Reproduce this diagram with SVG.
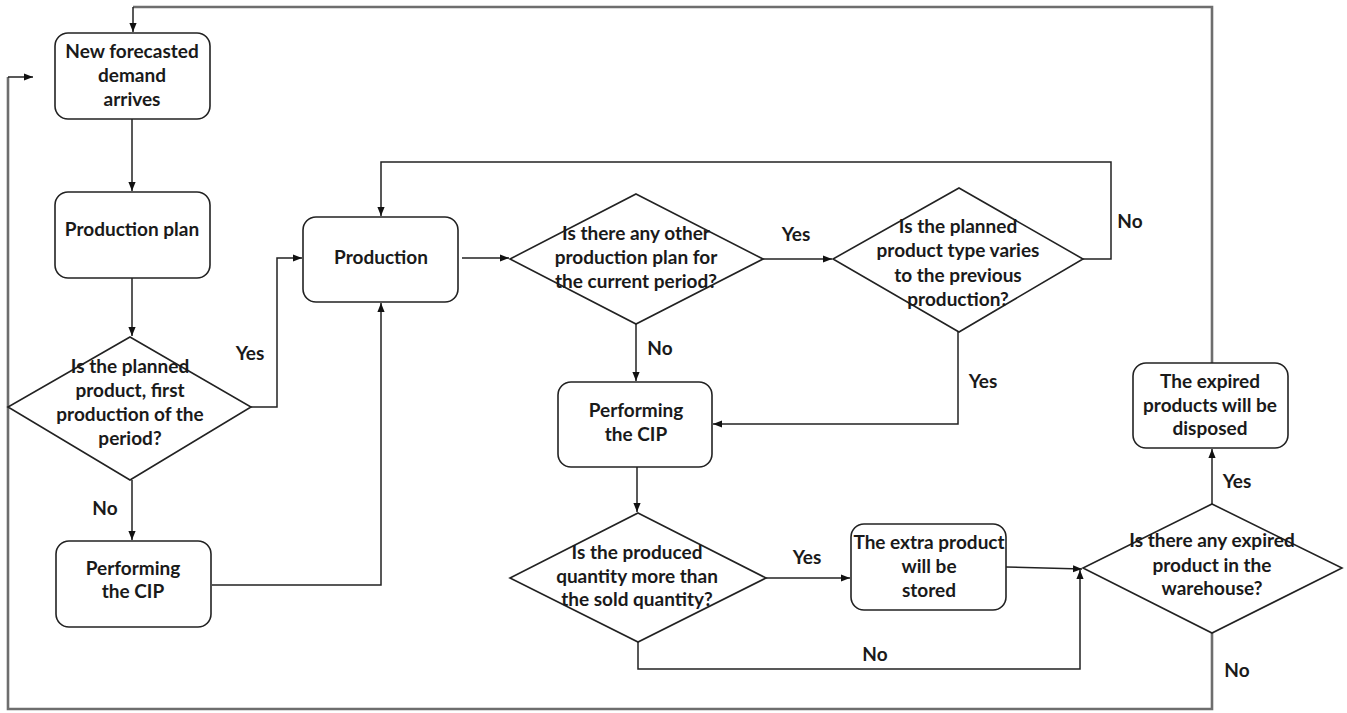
<svg xmlns="http://www.w3.org/2000/svg" width="1347" height="713" viewBox="0 0 1347 713">
<defs>
<marker id="ah" viewBox="0 0 10 10" refX="10" refY="5" markerWidth="9" markerHeight="9" markerUnits="userSpaceOnUse" orient="auto">
<path d="M0,1 L10,5 L0,9 z" fill="#111"/>
</marker>
<style>
.box{fill:#fff;stroke:#222;stroke-width:1.6}
.t{font-family:Lato,"Open Sans","Liberation Sans",sans-serif;font-weight:bold;font-size:19px;fill:#1a1a1a;text-anchor:middle}
.c{fill:none;stroke:#222;stroke-width:1.5}
.g{fill:none;stroke:#6e6e6e;stroke-width:2.6}
</style>
</defs>
<rect width="1347" height="713" fill="#fff"/>

<g id="connectors">
<path class="g" d="M1212,363 V7 H133"/>
<path class="c" d="M133,7 V32" marker-end="url(#ah)"/>
<path class="g" d="M1212,633 V709 H8 V77"/>
<path class="c" d="M8,77 H33" marker-end="url(#ah)"/>
<path class="c" d="M132,119 V191" marker-end="url(#ah)"/>
<path class="c" d="M132,278 V336" marker-end="url(#ah)"/>
<path class="c" d="M250,407 H277 V258 H302" marker-end="url(#ah)"/>
<path class="c" d="M132,480 V540" marker-end="url(#ah)"/>
<path class="c" d="M212,585 H381 V303" marker-end="url(#ah)"/>
<path class="c" d="M462,258 H509" marker-end="url(#ah)"/>
<path class="c" d="M763,259 H832" marker-end="url(#ah)"/>
<path class="c" d="M1083,259 H1111 V162 H381 V216" marker-end="url(#ah)"/>
<path class="c" d="M636,324 V381" marker-end="url(#ah)"/>
<path class="c" d="M958,332 V424 H713" marker-end="url(#ah)"/>
<path class="c" d="M637,467 V512" marker-end="url(#ah)"/>
<path class="c" d="M766,578 H850" marker-end="url(#ah)"/>
<path class="c" d="M1006,567 L1082,569" marker-end="url(#ah)"/>
<path class="c" d="M638,642 V669 H1080 V570" marker-end="url(#ah)"/>
<path class="c" d="M1212,504 V449" marker-end="url(#ah)"/>
</g>

<g id="labels">
<text class="t" x="250" y="360">Yes</text>
<text class="t" x="105" y="515">No</text>
<text class="t" x="796" y="241">Yes</text>
<text class="t" x="1130" y="228">No</text>
<text class="t" x="660" y="355">No</text>
<text class="t" x="983" y="388">Yes</text>
<text class="t" x="807" y="564">Yes</text>
<text class="t" x="875" y="661">No</text>
<text class="t" x="1237" y="488">Yes</text>
<text class="t" x="1237" y="677">No</text>
</g>

<g id="n-demand">
<rect class="box" x="55" y="33" width="155" height="86" rx="13"/>
<text class="t" x="132" y="58">New forecasted</text>
<text class="t" x="132" y="82">demand</text>
<text class="t" x="132" y="106">arrives</text>
</g>

<g id="n-plan">
<rect class="box" x="55" y="192" width="155" height="86" rx="13"/>
<text class="t" x="132" y="236">Production plan</text>
</g>

<g id="n-first">
<path class="box" d="M130,337 L251,407 L130,480 L8,407 Z"/>
<text class="t" x="130" y="373">Is the planned</text>
<text class="t" x="130" y="397">product, first</text>
<text class="t" x="130" y="421">production of the</text>
<text class="t" x="130" y="445">period?</text>
</g>

<g id="n-cip1">
<rect class="box" x="56" y="541" width="155" height="86" rx="13"/>
<text class="t" x="133" y="575">Performing</text>
<text class="t" x="133" y="598">the CIP</text>
</g>

<g id="n-production">
<rect class="box" x="303" y="217" width="155" height="85" rx="13"/>
<text class="t" x="381" y="264">Production</text>
</g>

<g id="n-other">
<path class="box" d="M636,194 L763,259 L636,324 L510,259 Z"/>
<text class="t" x="636" y="240">Is there any other</text>
<text class="t" x="636" y="264">production plan for</text>
<text class="t" x="636" y="288">the current period?</text>
</g>

<g id="n-varies">
<path class="box" d="M959,188 L1083,259 L959,332 L833,259 Z"/>
<text class="t" x="958" y="233">Is the planned</text>
<text class="t" x="958" y="257">product type varies</text>
<text class="t" x="958" y="282">to the previous</text>
<text class="t" x="958" y="306">production?</text>
</g>

<g id="n-cip2">
<rect class="box" x="558" y="382" width="154" height="85" rx="13"/>
<text class="t" x="636" y="417">Performing</text>
<text class="t" x="636" y="441">the CIP</text>
</g>

<g id="n-quantity">
<path class="box" d="M638,513 L766,578 L638,642 L510,578 Z"/>
<text class="t" x="637" y="559">Is the produced</text>
<text class="t" x="637" y="583">quantity more than</text>
<text class="t" x="637" y="606">the sold quantity?</text>
</g>

<g id="n-stored">
<rect class="box" x="851" y="524" width="155" height="86" rx="13"/>
<text class="t" x="929" y="549">The extra product</text>
<text class="t" x="929" y="573">will be</text>
<text class="t" x="929" y="597">stored</text>
</g>

<g id="n-expired">
<path class="box" d="M1212,504 L1342,568 L1212,633 L1083,568 Z"/>
<text class="t" x="1212" y="547">Is there any expired</text>
<text class="t" x="1212" y="572">product in the</text>
<text class="t" x="1212" y="595">warehouse?</text>
</g>

<g id="n-disposed">
<rect class="box" x="1133" y="363" width="155" height="85" rx="13"/>
<text class="t" x="1210" y="388">The expired</text>
<text class="t" x="1210" y="412">products will be</text>
<text class="t" x="1210" y="435">disposed</text>
</g>
</svg>
